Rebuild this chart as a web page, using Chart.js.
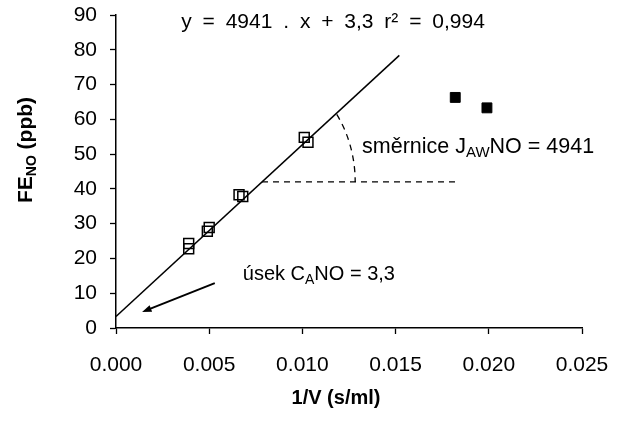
<!DOCTYPE html>
<html>
<head>
<meta charset="utf-8">
<script src="https://cdn.jsdelivr.net/npm/chart.js@4/dist/chart.umd.min.js"></script>
<style>
  body { margin: 0; background: #fff; }
</style>
</head>
<body>
<canvas id="fenoChart" width="621" height="421"></canvas>
<script>
// FENO vs 1/V

// measured points used for the fit (open squares)
const invFlow = [0.0039, 0.0039, 0.0049, 0.0050, 0.0066, 0.0068, 0.0101, 0.0103];
const fenoValues = [24.3, 22.8, 27.8, 28.9, 38.3, 37.8, 54.8, 53.4];

// points left out of the fit (filled squares)
const invFlowOut = [0.0182, 0.0199];
const fenoOut = [66.3, 63.3];

// regression line y = 4941 . x + 3,3
const slope = 4941;
const intercept = 3.3;
const trendX = [0, 0.0152];

// helper lines for the slope annotation
const slopeLevel = 42;
const slopeLineEnd = 0.0182;

const xTicks = [0, 0.005, 0.010, 0.015, 0.020, 0.025];
const yTicks = [0, 10, 20, 30, 40, 50, 60, 70, 80, 90];

const fontFamily = '"Liberation Sans", Arial, sans-serif';
Chart.defaults.font.family = fontFamily;
Chart.defaults.font.size = 21;
Chart.defaults.color = '#000';

// draws text with subscripts, parts = [[text, isSub], ...]
function drawRich(ctx, parts, x, y, size, bold) {
  let cx = x;
  parts.forEach(([txt, sub]) => {
    const s = sub ? Math.round(size * 0.68) : size;
    ctx.font = (bold ? 'bold ' : '') + s + 'px ' + fontFamily;
    ctx.fillText(txt, cx, sub ? y + size * 0.28 : y);
    cx += ctx.measureText(txt).width;
  });
  return cx - x;
}

function richWidth(ctx, parts, size, bold) {
  let w = 0;
  parts.forEach(([txt, sub]) => {
    const s = sub ? Math.round(size * 0.68) : size;
    ctx.font = (bold ? 'bold ' : '') + s + 'px ' + fontFamily;
    w += ctx.measureText(txt).width;
  });
  return w;
}

const annotations = {
  id: 'annotations',
  afterDraw(chart) {
    const { ctx, scales: { x, y } } = chart;
    ctx.save();
    ctx.fillStyle = '#000';
    ctx.strokeStyle = '#000';
    ctx.textBaseline = 'middle';
    ctx.textAlign = 'left';

    // equation (Excel spaces it out a bit wider)
    ctx.wordSpacing = '5px';
    drawRich(ctx, [['y = 4941 . x + 3,3 r² = 0,994', false]],
      x.getPixelForValue(0.0035), y.getPixelForValue(88), 21, false);
    ctx.wordSpacing = '0px';

    // dashed horizontal line from the regression line
    const crossX = (slopeLevel - intercept) / slope;
    const cx = x.getPixelForValue(crossX);
    const cy = y.getPixelForValue(slopeLevel);
    ctx.lineWidth = 1.3;
    ctx.setLineDash([6, 5]);
    ctx.beginPath();
    ctx.moveTo(cx, cy);
    ctx.lineTo(x.getPixelForValue(slopeLineEnd), cy);
    ctx.stroke();

    // dashed arc for the angle
    const rx = x.getPixelForValue(crossX + 0.005) - cx;
    const ry = 113;
    ctx.beginPath();
    ctx.ellipse(cx, cy, rx, ry, 0, -0.64, 0);
    ctx.stroke();
    ctx.setLineDash([]);

    drawRich(ctx, [['směrnice J', false], ['AW', true], ['NO = 4941', false]],
      x.getPixelForValue(0.0132), y.getPixelForValue(52), 21.5, false);

    // arrow towards the intercept
    const ax0 = x.getPixelForValue(0.0053), ay0 = y.getPixelForValue(12.9);
    const ax1 = x.getPixelForValue(0.0014), ay1 = y.getPixelForValue(4.6);
    const ang = Math.atan2(ay1 - ay0, ax1 - ax0);
    ctx.lineWidth = 2;
    ctx.beginPath();
    ctx.moveTo(ax0, ay0);
    ctx.lineTo(ax1 - 7 * Math.cos(ang), ay1 - 7 * Math.sin(ang));
    ctx.stroke();
    ctx.beginPath();
    ctx.moveTo(ax1, ay1);
    ctx.lineTo(ax1 - 10 * Math.cos(ang - 0.35), ay1 - 10 * Math.sin(ang - 0.35));
    ctx.lineTo(ax1 - 10 * Math.cos(ang + 0.35), ay1 - 10 * Math.sin(ang + 0.35));
    ctx.closePath();
    ctx.fill();

    drawRich(ctx, [['úsek C', false], ['A', true], ['NO = 3,3', false]],
      x.getPixelForValue(0.0068), y.getPixelForValue(15.5), 20, false);

    // axis titles
    const xt = [['1/V (s/ml)', false]];
    const xw = richWidth(ctx, xt, 20, true);
    drawRich(ctx, xt, 336 - xw / 2, 398, 20, true);

    const yt = [['FE', false], ['NO', true], [' (ppb)', false]];
    const yw = richWidth(ctx, yt, 21, true);
    ctx.translate(26, 150);
    ctx.rotate(-Math.PI / 2);
    drawRich(ctx, yt, -yw / 2, 0, 21, true);
    ctx.restore();
  }
};

new Chart(document.getElementById('fenoChart'), {
  type: 'scatter',
  data: {
    datasets: [
      {
        label: 'fit',
        data: invFlow.map((v, i) => ({ x: v, y: fenoValues[i] })),
        pointStyle: 'rect',
        pointRadius: 7,
        pointBorderWidth: 1.5,
        borderColor: '#000',
        backgroundColor: 'rgba(0,0,0,0)'
      },
      {
        label: 'excluded',
        data: invFlowOut.map((v, i) => ({ x: v, y: fenoOut[i] })),
        pointStyle: 'rect',
        pointRadius: 7,
        pointBorderWidth: 1,
        borderColor: '#000',
        backgroundColor: '#000'
      },
      {
        label: 'trend',
        type: 'line',
        data: trendX.map(v => ({ x: v, y: slope * v + intercept })),
        borderColor: '#000',
        borderWidth: 1.5,
        pointRadius: 0,
        fill: false
      }
    ]
  },
  options: {
    responsive: false,
    animation: false,
    devicePixelRatio: 1,
    layout: { padding: { top: 15, right: 39, left: 0, bottom: 0 } },
    plugins: { legend: { display: false }, tooltip: { enabled: false } },
    scales: {
      x: {
        type: 'linear',
        min: 0,
        max: 0.025,
        afterBuildTicks: s => { s.ticks = xTicks.map(v => ({ value: v })); },
        // fixed box, label overflow is covered by the layout padding
        afterFit: s => { s.height = 93; s.paddingLeft = 0; s.paddingRight = 0; },
        ticks: { callback: v => v.toFixed(3), padding: 19, maxRotation: 0 },
        grid: { drawOnChartArea: false, color: '#000', tickLength: 6, tickWidth: 1.3 },
        border: { color: '#000', width: 1.5 }
      },
      y: {
        type: 'linear',
        min: 0,
        max: 90,
        afterBuildTicks: s => { s.ticks = yTicks.map(v => ({ value: v })); },
        afterFit: s => { s.width = 116; s.paddingTop = 0; s.paddingBottom = 0; },
        ticks: { padding: 13 },
        grid: { drawOnChartArea: false, color: '#000', tickLength: 6, tickWidth: 1.3 },
        border: { color: '#000', width: 1.5 }
      }
    }
  },
  plugins: [annotations]
});
</script>
</body>
</html>
